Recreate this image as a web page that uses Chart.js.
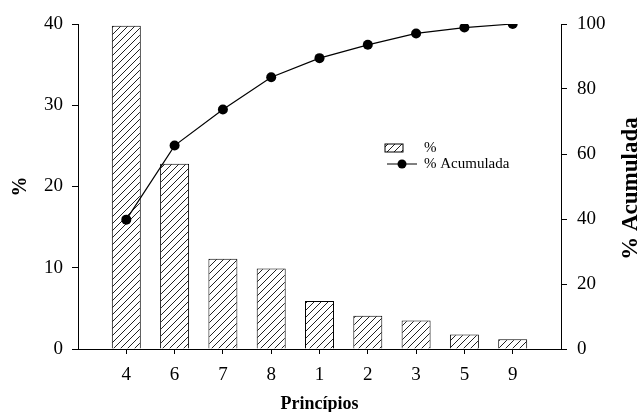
<!DOCTYPE html>
<html lang="pt">
  <head>
    <meta charset="UTF-8" />
    <title>Princípios - Pareto</title>
    <script src="https://cdn.jsdelivr.net/npm/chart.js"></script>
    <style>
      body { margin: 0; background: #fff; }
      #wrap { width: 641px; height: 412px; }
    </style>
  </head>
  <body>
    <div id="wrap"><canvas id="paretoChart"></canvas></div>
    <script>
      // data
      var principios = ["4", "6", "7", "8", "1", "2", "3", "5", "9"];
      var percent = [39.8, 22.8, 11.1, 9.9, 5.9, 4.1, 3.5, 1.8, 1.2];
      var acumulada = [39.8, 62.6, 73.7, 83.6, 89.5, 93.6, 97.1, 98.9, 100];
      var leftTicks = [0, 10, 20, 30, 40];
      var rightTicks = [0, 20, 40, 60, 80, 100];

      var serif = "'Liberation Serif', 'Times New Roman', serif";

      // empty slot on each side so the axis runs one full step past the bars
      var labels = [""].concat(principios, [""]);
      var barData = [null].concat(percent, [null]);
      var lineData = [null].concat(acumulada, [null]);

      // diagonal hatch fill
      function makeHatch() {
        var n = 7;
        var c = document.createElement("canvas");
        c.width = n;
        c.height = n;
        var g = c.getContext("2d");
        g.fillStyle = "#fff";
        g.fillRect(0, 0, n, n);
        g.strokeStyle = "#222";
        g.lineWidth = 1;
        g.beginPath();
        g.moveTo(-1, n + 1);
        g.lineTo(n + 1, -1);
        g.moveTo(-1, 1);
        g.lineTo(1, -1);
        g.moveTo(n - 1, n + 1);
        g.lineTo(n + 1, n - 1);
        g.stroke();
        return g.createPattern(c, "repeat");
      }
      var hatch = makeHatch();

      var extras = {
        id: "extras",
        afterDraw: function (chart) {
          var ctx = chart.ctx;
          var a = chart.chartArea;
          ctx.save();
          // right axis title, reading bottom to top
          ctx.font = "bold 23px " + serif;
          ctx.fillStyle = "#000";
          ctx.textAlign = "center";
          ctx.textBaseline = "middle";
          ctx.translate(a.right + 70, (a.top + a.bottom) / 2 + 2);
          ctx.rotate(-Math.PI / 2);
          ctx.fillText("% Acumulada", 0, 0);
          ctx.restore();

          // legend
          ctx.save();
          var lx = a.left + 307;
          var ly = a.top + 124;
          ctx.fillStyle = hatch;
          ctx.fillRect(lx, ly - 4, 18, 8);
          ctx.strokeStyle = "#000";
          ctx.lineWidth = 1;
          ctx.strokeRect(lx, ly - 4, 18, 8);
          ctx.beginPath();
          ctx.moveTo(lx + 2, ly + 16);
          ctx.lineTo(lx + 32, ly + 16);
          ctx.stroke();
          ctx.beginPath();
          ctx.arc(lx + 17, ly + 16, 4.5, 0, Math.PI * 2);
          ctx.fillStyle = "#000";
          ctx.fill();
          ctx.font = "15px " + serif;
          ctx.textAlign = "left";
          ctx.textBaseline = "middle";
          ctx.fillText("%", lx + 39, ly);
          ctx.fillText("% Acumulada", lx + 39, ly + 16);
          ctx.restore();
        },
      };

      var ctx = document.getElementById("paretoChart").getContext("2d");
      var paretoChart = new Chart(ctx, {
        type: "bar",
        data: {
          labels: labels,
          datasets: [
            {
              type: "line",
              label: "% Acumulada",
              data: lineData,
              yAxisID: "y2",
              borderColor: "#000",
              borderWidth: 1.2,
              backgroundColor: "#000",
              pointRadius: 5,
              pointBorderWidth: 0,
              tension: 0,
              spanGaps: false,
              order: 0,
            },
            {
              label: "%",
              data: barData,
              yAxisID: "y",
              backgroundColor: hatch,
              borderColor: "#000",
              borderWidth: 1,
              categoryPercentage: 1,
              barPercentage: 0.6,
              order: 1,
            },
          ],
        },
        options: {
          responsive: true,
          maintainAspectRatio: false,
          animation: false,
          events: [],
          layout: { padding: { top: 24 } },
          plugins: {
            legend: { display: false },
            tooltip: { enabled: false },
          },
          scales: {
            x: {
              offset: false,
              afterFit: function (s) { s.height = 63; },
              border: { display: true, color: "#000", width: 1 },
              grid: {
                drawOnChartArea: false,
                drawTicks: true,
                tickLength: 5,
                offset: false,
                tickColor: function (c) {
                  return c.tick && c.tick.label === "" ? "rgba(0,0,0,0)" : "#000";
                },
              },
              ticks: {
                color: "#000",
                padding: 10,
                maxRotation: 0,
                autoSkip: false,
                font: { family: serif, size: 19 },
              },
              title: {
                display: true,
                text: "Princípios",
                color: "#000",
                padding: { top: 0, bottom: -1 },
                font: { family: serif, size: 18, weight: "bold", lineHeight: 1 },
              },
            },
            y: {
              position: "left",
              min: 0,
              max: 40,
              afterFit: function (s) { s.width = 78; },
              afterBuildTicks: function (s) {
                s.ticks = leftTicks.map(function (v) { return { value: v }; });
              },
              border: { display: true, color: "#000", width: 1 },
              grid: { drawOnChartArea: false, drawTicks: true, tickLength: 6, tickColor: "#000" },
              ticks: {
                color: "#000",
                padding: 9,
                font: { family: serif, size: 19 },
              },
              title: {
                display: true,
                text: "%",
                color: "#000",
                padding: { top: 9, bottom: 0 },
                font: { family: serif, size: 20, weight: "bold", lineHeight: 1.2 },
              },
            },
            y2: {
              position: "right",
              min: 0,
              max: 100,
              afterFit: function (s) { s.width = 80; },
              afterBuildTicks: function (s) {
                s.ticks = rightTicks.map(function (v) { return { value: v }; });
              },
              border: { display: true, color: "#000", width: 1 },
              grid: { drawOnChartArea: false, drawTicks: true, tickLength: 6, tickColor: "#000" },
              ticks: {
                color: "#000",
                padding: 10,
                font: { family: serif, size: 19 },
              },
            },
          },
        },
        plugins: [extras],
      });
    </script>
  </body>
</html>
